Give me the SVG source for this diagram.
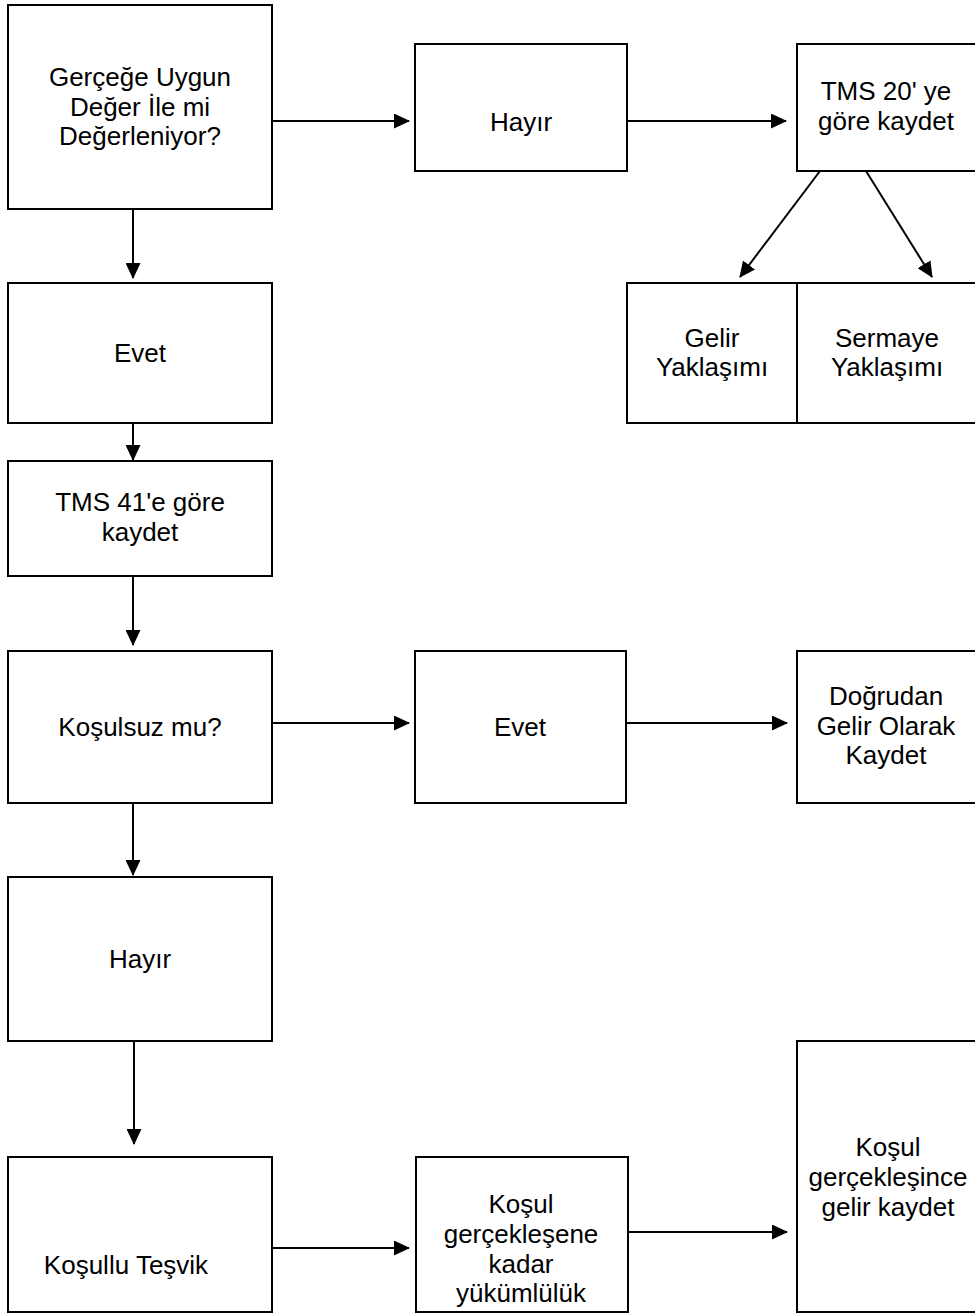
<svg xmlns="http://www.w3.org/2000/svg" width="975" height="1313" viewBox="0 0 975 1313">
<defs>
<style>
.box{fill:#fff;stroke:#000;stroke-width:2}
.t{font-family:"Liberation Sans",Arial,sans-serif;font-size:26px;fill:#000;text-anchor:middle}
.c{stroke:#000;stroke-width:2;fill:none;marker-end:url(#ah)}
</style>
<marker id="ah" markerUnits="userSpaceOnUse" markerWidth="16" markerHeight="15" viewBox="0 0 16 15" refX="15" refY="7.5" orient="auto">
<path d="M0,0 L16,7.5 L0,15 Z" fill="#000"/>
</marker>
</defs>
<rect width="975" height="1313" fill="#fff"/>
<g id="connectors">
<line class="c" x1="133" y1="209" x2="133" y2="278"/>
<line class="c" x1="272" y1="121" x2="409" y2="121"/>
<line class="c" x1="626" y1="121" x2="786" y2="121"/>
<line class="c" x1="820" y1="171" x2="740" y2="277"/>
<line class="c" x1="866" y1="171" x2="932" y2="277"/>
<line class="c" x1="133" y1="423" x2="133" y2="460"/>
<line class="c" x1="133" y1="576" x2="133" y2="645"/>
<line class="c" x1="272" y1="723" x2="409" y2="723"/>
<line class="c" x1="626" y1="723" x2="787" y2="723"/>
<line class="c" x1="133" y1="803" x2="133" y2="875"/>
<line class="c" x1="134" y1="1041" x2="134" y2="1144"/>
<line class="c" x1="272" y1="1248" x2="409" y2="1248"/>
<line class="c" x1="628" y1="1232" x2="787" y2="1232"/>
</g>
<g id="n1"><rect class="box" x="8" y="5" width="264" height="204"/>
<text class="t" x="140" y="86">Gerçeğe Uygun</text><text class="t" x="140" y="116">Değer İle mi</text><text class="t" x="140" y="145">Değerleniyor?</text></g>
<g id="n2"><rect class="box" x="415" y="44" width="212" height="127"/><text class="t" x="521" y="131">Hayır</text></g>
<g id="n3"><rect class="box" x="797" y="44" width="180" height="127"/><text class="t" x="886" y="100">TMS 20' ye</text><text class="t" x="886" y="130">göre kaydet</text></g>
<g id="n4"><rect class="box" x="627" y="283" width="170" height="140"/><text class="t" x="712" y="347">Gelir</text><text class="t" x="712" y="376">Yaklaşımı</text></g>
<g id="n5"><rect class="box" x="797" y="283" width="180" height="140"/><text class="t" x="887" y="347">Sermaye</text><text class="t" x="887" y="376">Yaklaşımı</text></g>
<g id="n6"><rect class="box" x="8" y="283" width="264" height="140"/><text class="t" x="140" y="362">Evet</text></g>
<g id="n7"><rect class="box" x="8" y="461" width="264" height="115"/><text class="t" x="140" y="511">TMS 41'e göre</text><text class="t" x="140" y="541">kaydet</text></g>
<g id="n8"><rect class="box" x="8" y="651" width="264" height="152"/><text class="t" x="140" y="736">Koşulsuz mu?</text></g>
<g id="n9"><rect class="box" x="415" y="651" width="211" height="152"/><text class="t" x="520" y="736">Evet</text></g>
<g id="n10"><rect class="box" x="797" y="651" width="180" height="152"/><text class="t" x="886" y="705">Doğrudan</text><text class="t" x="886" y="735">Gelir Olarak</text><text class="t" x="886" y="764">Kaydet</text></g>
<g id="n11"><rect class="box" x="8" y="877" width="264" height="164"/><text class="t" x="140" y="968">Hayır</text></g>
<g id="n12"><rect class="box" x="8" y="1157" width="264" height="155"/><text class="t" x="126" y="1274">Koşullu Teşvik</text></g>
<g id="n13"><rect class="box" x="416" y="1157" width="212" height="155"/><text class="t" x="521" y="1213">Koşul</text><text class="t" x="521" y="1243">gerçekleşene</text><text class="t" x="521" y="1273">kadar</text><text class="t" x="521" y="1302">yükümlülük</text></g>
<g id="n14"><rect class="box" x="797" y="1041" width="180" height="271"/><text class="t" x="888" y="1156">Koşul</text><text class="t" x="888" y="1186">gerçekleşince</text><text class="t" x="888" y="1216">gelir kaydet</text></g>
</svg>
